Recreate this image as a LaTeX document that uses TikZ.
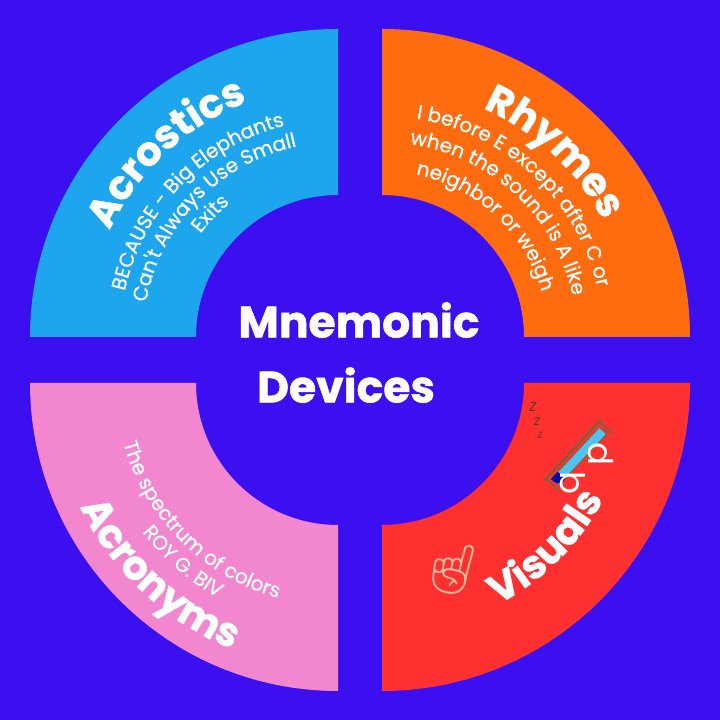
\documentclass[tikz,border=0pt]{standalone}
\usepackage{fontspec}
\setmainfont{Poppins}[BoldFeatures={FakeBold=1.2}]
\newfontfamily\subfnt{Poppins}[FakeBold=0.7]
\newfontfamily\emojifont{Noto Emoji}
\usetikzlibrary{decorations.text}
\definecolor{bgc}{HTML}{3B0FEF}
\definecolor{acro}{HTML}{1DA6EE}
\definecolor{rhym}{HTML}{FF6C10}
\definecolor{acrn}{HTML}{F387CF}
\definecolor{visu}{HTML}{FF3030}
\definecolor{bedbrown}{HTML}{8A5A3A}
\definecolor{bedcyan}{HTML}{4FC3EE}
\definecolor{skin}{HTML}{E9B99A}
\newcommand\mysector[3]{\fill[#1] ([shift={(#3:142)}]#2) arc[start angle=#3,end angle=#3+90,radius=142] -- ++(#3+90:166) arc[start angle=#3+90,end angle=#3,radius=308] -- cycle;}
\tikzset{
  curv/.style={decorate, decoration={text along path, text align=center, text color=white, text={#1}}},
}
\newcommand\ttl{\fontsize{40}{40}\selectfont\bfseries}
\newcommand\sbt{\fontsize{20}{20}\selectfont\subfnt}
\begin{document}
\begin{tikzpicture}[x=1pt,y=1pt]
\fill[bgc] (0,0) rectangle (720,720);
\useasboundingbox (0,0) rectangle (720,720);
\coordinate (C1) at (338,383);
\coordinate (C2) at (382,383);
\coordinate (C3) at (338,337);
\coordinate (C4) at (382,337);
\mysector{acro}{C1}{90}
\mysector{rhym}{C2}{0}
\mysector{acrn}{C3}{180}
\mysector{visu}{C4}{270}
% Acrostics
\path[curv={|\ttl|Acrostics}] ([shift={(178:252)}]C1) arc[start angle=178,end angle=88,radius=252];
\path[curv={|\sbt|BECAUSE - Big Elephants}] ([shift={(182:218)}]C1) arc[start angle=182,end angle=90,radius=218];
\path[curv={|\sbt|Can't Always Use Small}] ([shift={(182:195)}]C1) arc[start angle=182,end angle=90,radius=195];
\path[curv={|\sbt|Exits}] ([shift={(182:172)}]C1) arc[start angle=182,end angle=90,radius=172];
% Rhymes
\path[curv={|\ttl|Rhymes}] ([shift={(92:250)}]C2) arc[start angle=92,end angle=2,radius=250];
\path[curv={|\sbt|I before E except after C or}] ([shift={(93:221)}]C2) arc[start angle=93,end angle=1,radius=221];
\path[curv={|\sbt|when the sound is A like}] ([shift={(93:195)}]C2) arc[start angle=93,end angle=1,radius=195];
\path[curv={|\sbt|neighbor or weigh}] ([shift={(93:166)}]C2) arc[start angle=93,end angle=1,radius=166];
% Acronyms
\path[curv={|\ttl|Acronyms}] ([shift={(182:286)}]C3) arc[start angle=182,end angle=272,radius=286];
\path[curv={|\sbt|ROY G. BIV}] ([shift={(184:246)}]C3) arc[start angle=184,end angle=274,radius=246];
\path[curv={|\sbt|The spectrum of colors}] ([shift={(180:223)}]C3) arc[start angle=180,end angle=270,radius=223];
% Visuals
\path[curv={|\ttl|Visuals}] ([shift={(270:250)}]C4) arc[start angle=270,end angle=360,radius=250];
% centre
\node[text=white, font=\fontsize{44}{44}\selectfont\bfseries] (t1) at (359,400) {Mnemonic};
\node[text=white, font=\fontsize{44}{44}\selectfont\bfseries] (t2) at (346,335) {Devices};
% bed icon
\begin{scope}[shift={(574,270)}, rotate=47]
  \fill[bedcyan, draw=bedbrown, line width=1pt] (-36,-3) rectangle (34,-13);
  \draw[bedbrown, line width=2.5pt, line cap=round] (-42,1) -- (40,1);
  \draw[bedbrown, line width=2pt, line cap=round] (-40,1) -- (-40,-16) (38,1) -- (38,-16);
  \fill[blue!70!black] (-37,-3) .. controls (-37,-13) and (-33,-15) .. (-27,-13) -- (-27,-3) -- cycle;
  \node[text=white, font=\fontsize{34}{34}\selectfont, rotate=-90, anchor=west] (bb) at (-14,-12) {b};
  \node[text=white, font=\fontsize{34}{34}\selectfont, rotate=-90, anchor=west] (bd) at (26,-12) {d};
\end{scope}
\node[text=bedbrown!60!black, font=\fontsize{13}{13}\selectfont\itshape] (z1) at (533,313) {Z};
\node[text=bedbrown!60!black, font=\fontsize{11}{11}\selectfont\itshape] (z2) at (537,298) {Z};
\node[text=bedbrown!60!black, font=\fontsize{9}{9}\selectfont\itshape] (z3) at (540,285) {Z};
% hand
\node[text=skin, font=\fontsize{52}{52}\selectfont\emojifont, rotate=-15] (hand) at (452,152) {☝};
\end{tikzpicture}
\end{document}
